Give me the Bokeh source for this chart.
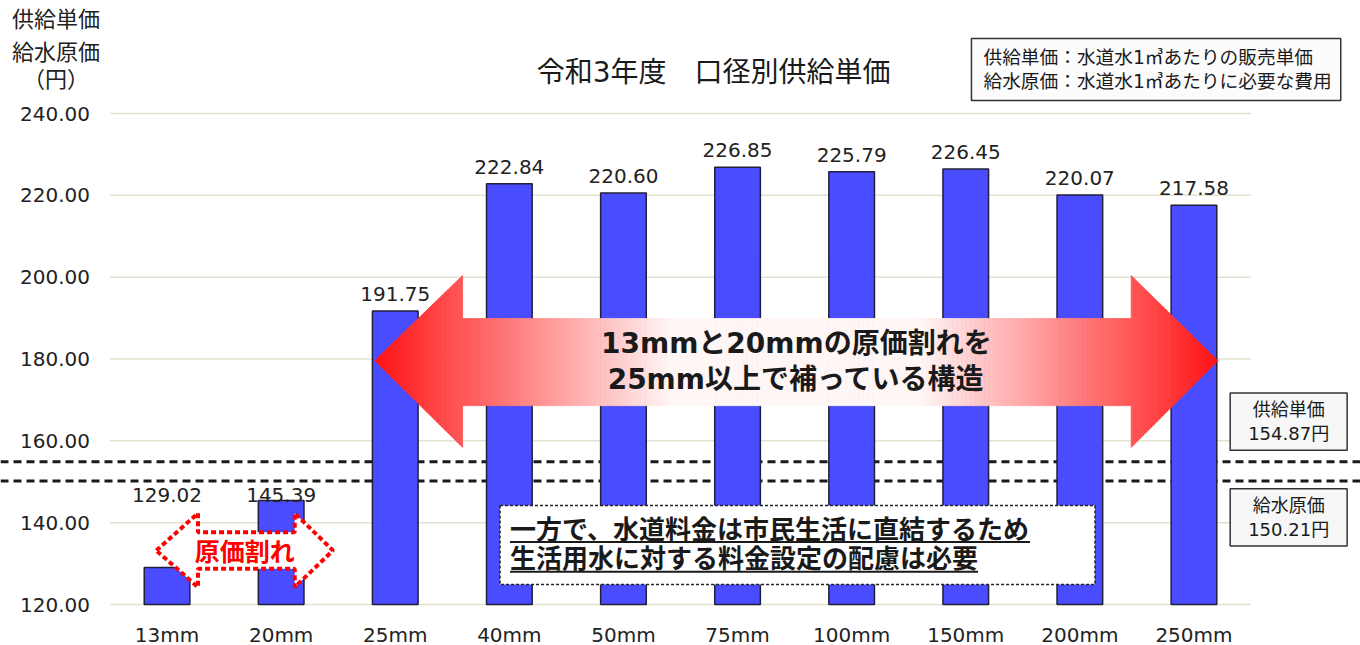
import numpy as np
from bokeh.plotting import figure
from bokeh.models import (FactorRange, Range1d, FixedTicker, NumeralTickFormatter, Label, Span,
                          ColumnDataSource)
from bokeh.core.properties import value
from bokeh.embed import file_html
from bokeh.resources import INLINE

# ---------------- data ----------------
categories = ["13mm", "20mm", "25mm", "40mm", "50mm", "75mm", "100mm", "150mm", "200mm", "250mm"]
unit_price = [129.02, 145.39, 191.75, 222.84, 220.60, 226.85, 225.79, 226.45, 220.07, 217.58]
supply_unit_price = 154.87   # 供給単価
water_cost = 150.21          # 給水原価
y_ticks = [120, 140, 160, 180, 200, 220, 240]

title_text = "令和3年度　口径別供給単価"
y_title_lines = ["供給単価", "給水原価", "（円）"]
legend_lines = ["供給単価：水道水1㎥あたりの販売単価", "給水原価：水道水1㎥あたりに必要な費用"]
arrow_lines = ["13mmと20mmの原価割れを", "25mm以上で補っている構造"]
loss_text = "原価割れ"
note_lines = ["一方で、水道料金は市民生活に直結するため", "生活用水に対する料金設定の配慮は必要"]

# ---------------- styling / layout ----------------
NUM_FONT = "DejaVu Sans"
JP_FONT = "DejaVu Sans, Noto Sans CJK JP"
CJK_FONT = "Noto Sans CJK JP"
TXT = "#222222"
BAR = "#4a4cff"

W, H = 1360, 645
PLOT_L, PLOT_R, PLOT_T, PLOT_B = 107, 1248, 113, 604     # pixel box of the chart area
n = len(categories)
px_x = (PLOT_R - PLOT_L) / n
pad_side = ((W - (PLOT_R - PLOT_L)) / px_x) / 2            # padding per side, category units
px_y = (PLOT_B - PLOT_T) / (y_ticks[-1] - y_ticks[0])
y_lo = y_ticks[0] - (H - PLOT_B) / px_y
y_hi = y_ticks[-1] + PLOT_T / px_y

p = figure(width=W, height=H,
           x_range=FactorRange(*categories, range_padding=pad_side, range_padding_units="absolute"),
           y_range=Range1d(y_lo, y_hi),
           output_backend="svg", toolbar_location=None, min_border=0)
p.background_fill_color = "white"
p.border_fill_color = "white"
p.outline_line_color = None
p.xgrid.grid_line_color = None
p.ygrid.grid_line_color = None

# axes fixed to the chart area's edges (no extra panel space)
p.yaxis.fixed_location = 0
p.xaxis.fixed_location = y_ticks[0]
p.yaxis.ticker = FixedTicker(ticks=y_ticks)
p.yaxis.formatter = NumeralTickFormatter(format="0.00")
for ax in (p.xaxis[0], p.yaxis[0]):
    ax.axis_line_color = None
    ax.major_tick_line_color = None
    ax.minor_tick_line_color = None
    ax.major_tick_in = 0
    ax.major_tick_out = 0
    ax.major_label_text_font = NUM_FONT
    ax.major_label_text_font_size = "20px"
    ax.major_label_text_color = TXT
p.yaxis.major_label_standoff = 20
p.xaxis.major_label_standoff = 18

# horizontal gridlines limited to the category area
p.segment(x0=[0] * len(y_ticks), x1=[n] * len(y_ticks), y0=y_ticks, y1=y_ticks,
          line_color="#e2e2d0", line_width=1.5, level="underlay")

# dashed reference lines across the whole width (beneath the bars)
for ref in (supply_unit_price, water_cost):
    p.add_layout(Span(location=ref, dimension="width", line_color="#1a1a1a",
                      line_width=3, line_dash="8 5", level="underlay"))

# bars
src = ColumnDataSource(dict(cat=categories, val=unit_price))
p.vbar(x="cat", top="val", bottom=y_ticks[0], width=0.4, source=src,
       fill_color=BAR, line_color="#20203a", line_width=1.5)

# value labels (bars under the cost lines get their label at one common level)
LOW_LABEL_Y = 142.55
label_y = [v if v > supply_unit_price else LOW_LABEL_Y for v in unit_price]
p.text(x=categories, y=label_y, text=[f"{v:.2f}" for v in unit_price],
       text_align="center", text_baseline="bottom", y_offset=-10,
       text_font=value(NUM_FONT), text_font_size="20px", text_color=TXT)

# ---------------- big gradient double arrow ----------------
a_left, a_hl, a_hr, a_right = 2.32, 3.09, 8.95, 9.71
tip_y, head_top, head_bot, shaft_top, shaft_bot = 179.6, 200.4, 158.4, 189.9, 168.6


def arrow_edges(x, seg):
    if seg == 0:
        f = (x - a_left) / (a_hl - a_left)
        return tip_y + (head_top - tip_y) * f, tip_y + (head_bot - tip_y) * f
    if seg == 2:
        f = (a_right - x) / (a_right - a_hr)
        return tip_y + (head_top - tip_y) * f, tip_y + (head_bot - tip_y) * f
    return shaft_top, shaft_bot


center = (a_left + a_right) / 2
half = (a_right - a_left) / 2
xs_list, ys_list, cols = [], [], []
for seg, (x0, x1, ns) in enumerate([(a_left, a_hl, 30), (a_hl, a_hr, 150), (a_hr, a_right, 30)]):
    edges = np.linspace(x0, x1, ns + 1)
    for xa, xb in zip(edges[:-1], edges[1:]):
        ta, ba = arrow_edges(xa, seg)
        tb, bb = arrow_edges(xb, seg)
        xs_list.append([xa, xb, xb, xa])
        ys_list.append([ta, tb, bb, ba])
        t = abs((xa + xb) / 2 - center) / half
        g = int(np.clip(20 + (1 - t) * 320, 20, 246))
        cols.append(f"#ff{g:02x}{g:02x}")
p.patches(xs=xs_list, ys=ys_list, fill_color=cols, line_color=cols, line_width=0.8)

p.text(x=[center, center], y=[183.8, 175.0], text=arrow_lines, text_align="center",
       text_baseline="middle", text_font=value(JP_FONT), text_font_style="bold",
       text_font_size="28px", text_color="#1a1a1a")

# ---------------- small dashed "原価割れ" arrow ----------------
s_left, s_hl, s_hr, s_right = 0.406, 0.771, 1.619, 1.954
s_tip, s_htop, s_hbot, s_stop, s_sbot = 133.2, 142.31, 124.23, 137.67, 128.72
p.patch(x=[s_left, s_hl, s_hl, s_hr, s_hr, s_right, s_hr, s_hr, s_hl, s_hl, s_left],
        y=[s_tip, s_htop, s_stop, s_stop, s_htop, s_tip, s_hbot, s_sbot, s_sbot, s_hbot, s_tip],
        fill_color="white", line_color="#ff0000", line_width=4, line_dash="5 3")
p.text(x=[(s_left + s_right) / 2], y=[133.4], text=[loss_text], text_align="center",
       text_baseline="middle", text_font=value(CJK_FONT), text_font_style="bold",
       text_font_size="25px", text_color="#ff0000")

# ---------------- note box ----------------
p.quad(left=[3.418], right=[8.633], top=[144.2], bottom=[124.89], fill_color="white",
       line_color="#222222", line_width=1.5, line_dash="3 2")
NOTE_FS = 26
note_x = 3.506
note_y = [138.82, 131.73]
under_y = [135.3, 128.0]
p.text(x=[note_x] * 2, y=note_y, text=note_lines, text_align="left", text_baseline="middle",
       text_font=value(CJK_FONT), text_font_style="bold", text_font_size=f"{NOTE_FS}px",
       text_color="#1a1a1a")
p.segment(x0=[note_x] * 2, y0=under_y,
          x1=[note_x + len(s) * NOTE_FS / px_x for s in note_lines], y1=under_y,
          line_color="#1a1a1a", line_width=2)

# ---------------- titles and boxes ----------------
p.add_layout(Label(x=5.29, y=250.0, text=title_text, text_align="center", text_baseline="middle",
                   text_font=JP_FONT, text_font_size="28px", text_color="#1a1a1a"))
for txt, yy in zip(y_title_lines, [263.5, 255.4, 248.8]):
    p.add_layout(Label(x=-0.473, y=yy, text=txt, text_align="center", text_baseline="middle",
                       text_font=CJK_FONT, text_font_size="22px", text_color=TXT))

legend_text = "\n".join(legend_lines)
lg = dict(x=7.55, y=258.3, text=legend_text, text_align="left", text_baseline="top",
          text_font=JP_FONT, text_font_size="18.7px", text_line_height=1.14,
          padding=dict(left=12, right=9, top=8, bottom=9))
p.add_layout(Label(**lg, x_offset=3, y_offset=-3, text_alpha=0.0,
                   background_fill_color="#2a2a2a"))
p.add_layout(Label(**lg, text_color="#1a1a1a", background_fill_color="#fcfcfc",
                   border_line_color="#333333", border_line_width=1.5))

for txt, yy in [(f"供給単価\n{supply_unit_price:.2f}円", 164.7),
                (f"給水原価\n{water_cost:.2f}円", 141.3)]:
    bx = dict(x=10.33, y=yy, text=txt, text_align="center", text_baseline="middle",
              text_font=JP_FONT, text_font_size="18px", text_line_height=1.15,
              padding=dict(left=18, right=18, top=6, bottom=6))
    p.add_layout(Label(**bx, x_offset=2, y_offset=-2, text_alpha=0.0,
                       background_fill_color="#333333"))
    p.add_layout(Label(**bx, text_color="#1a1a1a", background_fill_color="#f7f7f7",
                       border_line_color="#333333", border_line_width=1.5))

open("out.html", "w").write(file_html(p, INLINE))
